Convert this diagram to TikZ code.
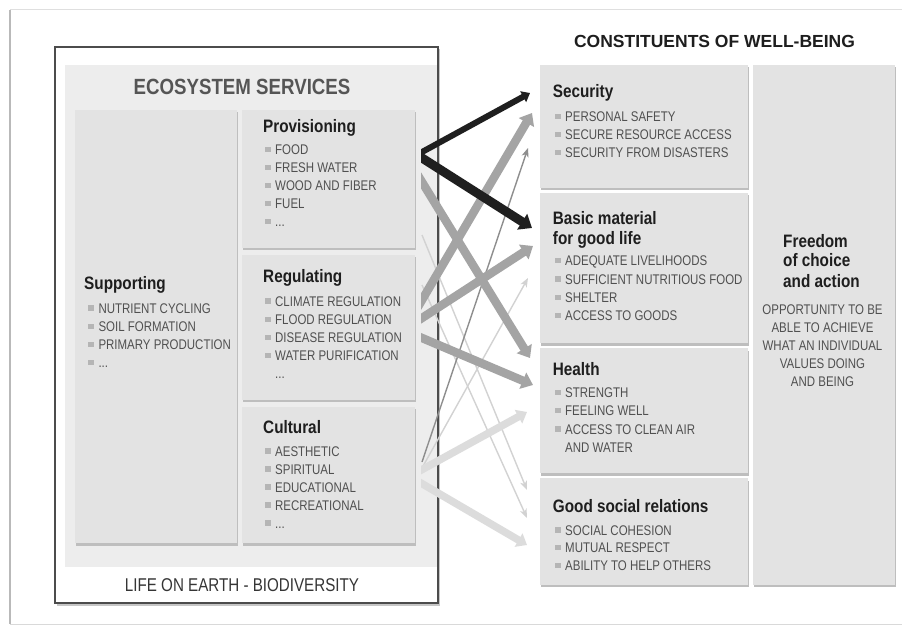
\documentclass[tikz,border=0pt]{standalone}
\usepackage{fontspec}
\setmainfont{Liberation Sans}
\newfontfamily\cnd[FakeStretch=0.82]{Liberation Sans}
\newfontfamily\cndb[FakeStretch=0.85]{Liberation Sans}
\usetikzlibrary{arrows.meta,fit}

\definecolor{boxfill}{HTML}{E3E3E3}
\definecolor{panelfill}{HTML}{EDEDED}
\definecolor{shadowc}{HTML}{BEBEBE}
\definecolor{itemgray}{HTML}{505050}
\definecolor{titleblack}{HTML}{1E1E1E}
\definecolor{headgray}{HTML}{555555}
\definecolor{bulgray}{HTML}{B5B5B5}
\definecolor{framec}{HTML}{4C4C4C}
\definecolor{arrblack}{HTML}{1F1F1F}
\definecolor{arrgray}{HTML}{A4A4A4}
\definecolor{arrlight}{HTML}{DCDCDC}
\definecolor{arrthindark}{HTML}{8E8E8E}
\definecolor{arrthinlight}{HTML}{D2D2D2}

\tikzset{
  panelbox/.style={fill=boxfill, draw=none, inner sep=0pt},
  itm/.style={anchor=base west, inner sep=0pt, text=itemgray, font=\cnd\fontsize{14}{16}\selectfont},
  ctr/.style={anchor=base, inner sep=0pt, text=itemgray, font=\cnd\fontsize{14}{16}\selectfont},
  ttl/.style={anchor=base west, inner sep=0pt, text=titleblack, font=\cndb\bfseries\fontsize{18}{20}\selectfont},
  thickarrow/.style={-{Triangle[width=0pt 2.0,length=0pt 1.3]}},
  thinarrow/.style={line width=1.4pt, -{Stealth[width=7pt,length=9pt,inset=2.5pt]}},
}

\newcommand\etcdots{...}
\newcommand\mkbox[5]{%
  \fill[shadowc] ({#2+0.8},{#3+2.2}) rectangle ({#4+0.8},{#5+2.2});
  \node[panelbox, fit={(#2,#3) (#4,#5)}] (#1) {};}
\newcommand\itemlist[5]{%
  \foreach \t [count=\i] in {#5} {
    \node[itm] (#1\i) at (#2,{#3+#4*(\i-1)}) {\t};
    \fill[bulgray] ([xshift=-10pt,yshift=2.5pt]#1\i.base west) rectangle ++(5.5pt,5.5pt);
  }}

\begin{document}
\begin{tikzpicture}[x=1pt,y=-1pt]
\fill[white] (0,0) rectangle (902,628);
\useasboundingbox (0,0) rectangle (902,628);

% page frame
\draw[gray!30, line width=1pt] (10,624) -- (902,624);
\draw[gray!25, line width=1pt] (10,10) -- (902,10);
\draw[gray!55, line width=1.2pt] (10,10) -- (10,624);

% left panel
\fill[gray!45] (57,49) rectangle (440,605.5);
\node[fill=white, draw=framec, line width=1.3pt, inner sep=0pt, fit={(55,47) (438,603)}] (frame) {};
\node[fill=panelfill, inner sep=0pt, fit={(65,65) (437,567)}] (esarea) {};

\node[anchor=base, inner sep=0pt, text=headgray, font=\cndb\bfseries\fontsize{22}{24}\selectfont] (eshead) at (242,95) {ECOSYSTEM SERVICES};
\node[anchor=base, inner sep=0pt, text=titleblack!90, font=\cnd\fontsize{18.5}{20}\selectfont] (life) at (242,591.5) {LIFE ON EARTH - BIODIVERSITY};

\mkbox{supp}{75}{110}{236.7}{543.3}
\mkbox{prov}{241.7}{110}{415}{248.3}
\mkbox{regu}{241.7}{255}{415}{400}
\mkbox{cult}{241.7}{406.7}{415}{543.3}

\node[ttl] (supptitle) at (84,290) {Supporting};
\itemlist{supi}{98.3}{313.5}{18}{NUTRIENT CYCLING, SOIL FORMATION, PRIMARY PRODUCTION, \etcdots}

\node[ttl] (provtitle) at (263,133) {Provisioning};
\itemlist{prvi}{275}{155}{18}{FOOD, FRESH WATER, WOOD AND FIBER, FUEL, \etcdots}

\node[ttl] (regtitle) at (263,283) {Regulating};
\itemlist{regi}{275}{306.5}{18}{CLIMATE REGULATION, FLOOD REGULATION, DISEASE REGULATION, WATER PURIFICATION}
\node[itm] (regdots) at (275,378) {\etcdots};

\node[ttl] (culttitle) at (263,433) {Cultural};
\itemlist{culi}{275}{456}{18}{AESTHETIC, SPIRITUAL, EDUCATIONAL, RECREATIONAL, \etcdots}

% right side
\node[anchor=base, inner sep=0pt, text=titleblack, font=\bfseries\fontsize{17.5}{20}\selectfont] (cwhead) at (714.5,47.3) {CONSTITUENTS OF WELL-BEING};

\mkbox{secu}{540}{65}{748}{188.3}
\mkbox{basic}{540}{193.3}{748}{343.3}
\mkbox{health}{540}{348.3}{748}{473.3}
\mkbox{social}{540}{478.3}{748}{585}
\mkbox{freedom}{752.7}{65}{895}{585}

\node[ttl] (sectitle) at (552.7,98) {Security};
\itemlist{seci}{565}{122}{17.8}{PERSONAL SAFETY, SECURE RESOURCE ACCESS, SECURITY FROM DISASTERS}

\node[ttl] (bastitleA) at (552.7,225) {Basic material};
\node[ttl] (bastitleB) at (552.7,245) {for good life};
\itemlist{basi}{565}{266}{18.3}{ADEQUATE LIVELIHOODS, SUFFICIENT NUTRITIOUS FOOD, SHELTER, ACCESS TO GOODS}

\node[ttl] (healtitle) at (552.7,375) {Health};
\itemlist{heai}{565}{397.5}{18.4}{STRENGTH, FEELING WELL, ACCESS TO CLEAN AIR}
\node[itm] (heawater) at (565,452.7) {AND WATER};

\node[ttl] (soctitle) at (552.7,512.5) {Good social relations};
\itemlist{soci}{565}{535}{17.9}{SOCIAL COHESION, MUTUAL RESPECT, ABILITY TO HELP OTHERS}

\node[ttl] (freeA) at (783,247.3) {Freedom};
\node[ttl] (freeB) at (783,266.7) {of choice};
\node[ttl] (freeC) at (783,287.3) {and action};
\foreach \t [count=\i] in {OPPORTUNITY TO BE, ABLE TO ACHIEVE, WHAT AN INDIVIDUAL, VALUES DOING, AND BEING}
  \node[ctr] (freei\i) at (822.5,{315+17.9*(\i-1)}) {\t};

% arrows
\coordinate (sPS) at (414,156.4);  \coordinate (tPS) at (530,93);
\coordinate (sPB) at (414,152.9);  \coordinate (tPB) at (532,228);
\coordinate (sPH) at (414,169);    \coordinate (tPH) at (530,358);
\coordinate (sRS) at (414,313.6);  \coordinate (tRS) at (532,113);
\coordinate (sRB) at (414,323.2);  \coordinate (tRB) at (533,246);
\coordinate (sRH) at (414,334.6);  \coordinate (tRH) at (533,385);
\coordinate (sCS) at (422,462);    \coordinate (tCS) at (528,148);
\coordinate (sCB) at (422,468);    \coordinate (tCB) at (528,278);
\coordinate (sCH) at (414,474);    \coordinate (tCH) at (527,412);
\coordinate (sCG) at (414,479);    \coordinate (tCG) at (527,545);
\coordinate (sPG) at (422,235);    \coordinate (tPG) at (527,490);
\coordinate (sRG) at (422,285);    \coordinate (tRG) at (527,518);

\begin{scope}
\clip (421,0) rectangle (902,628);
\draw[thinarrow, arrthinlight] (sPG) -- (tPG);
\draw[thinarrow, arrthinlight] (sRG) -- (tRG);
\draw[thinarrow, arrthinlight] (sCB) -- (tCB);
\draw[thickarrow, arrlight, line width=7.5pt] (sCH) -- (tCH);
\draw[thickarrow, arrlight, line width=7.5pt] (sCG) -- (tCG);
\draw[thinarrow, arrthindark] (sCS) -- (tCS);
\draw[thickarrow, arrgray, line width=8.5pt] (sRH) -- (tRH);
\draw[thickarrow, arrgray, line width=8.5pt] (sRB) -- (tRB);
\draw[thickarrow, arrgray, line width=8.5pt] (sPH) -- (tPH);
\draw[thickarrow, arrgray, line width=8.5pt] (sRS) -- (tRS);
\draw[thickarrow, arrblack, line width=6pt] (sPS) -- (tPS);
\draw[thickarrow, arrblack, line width=9pt] (sPB) -- (tPB);
\end{scope}
\end{tikzpicture}
\end{document}
